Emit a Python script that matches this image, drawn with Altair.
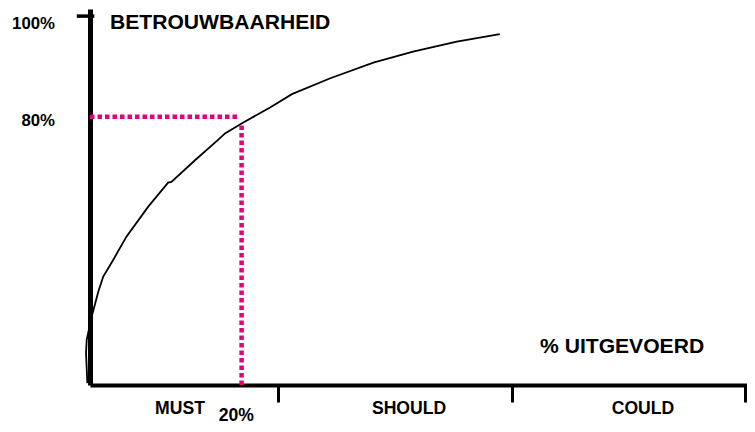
import altair as alt
import pandas as pd

# curve (x = % executed on a 0-100 schematic axis, y = reliability on a 0-100 schematic axis)
curve_x = [-0.4, -0.6, -0.5, 0.26, 1.25, 2.0, 3.5, 5.5, 8.8, 11.8, 12.3, 15.9, 19.3, 20.4, 22.9, 27.2, 30.5, 36.3, 42.8, 48.8, 55.4, 61.9]
curve_y = [0.5, 8.6, 12.2, 18.5, 25.2, 29.3, 33.8, 40.1, 48.2, 54.7, 54.9, 60.8, 66.2, 68.0, 70.7, 75.0, 78.6, 82.9, 87.1, 90.1, 92.8, 94.8]

# axis ticks
x_ticks = [28.4, 63.7, 99.0]
y_tick_value = [99.7]
y_tick_from = [-2.0]
y_tick_to = [0.65]

# dotted guide lines
guide_h_x = [0.0]
guide_h_x2 = [22.4]
guide_h_y = [72.5]
guide_v_x = [22.9]
guide_v_y = [0.0]
guide_v_y2 = [70.4]

# labels
ylab_text = ["100%", "80%"]
ylab_x = [-5.29, -5.29]
ylab_y = [96.1, 70.0]

title_text = ["BETROUWBAARHEID", "% UITGEVOERD"]
title_x = [3.02, 67.98]
title_y = [96.3, 8.73]

cat_text = ["MUST", "SHOULD", "COULD", "20%"]
cat_x = [13.6, 48.19, 83.53, 22.1]
cat_y = [-7.84, -7.84, -7.84, -9.8]

PINK = "#E4007C"
FONT = "Liberation Sans"

xs = alt.Scale(domain=[0, 99.24], nice=False, zero=False)
ys = alt.Scale(domain=[0, 101.62], nice=False, zero=False)
xaxis = alt.Axis(values=x_ticks, labels=False, title=None, grid=False,
                 tickSize=17, tickWidth=3, tickColor="black",
                 domainColor="black", domainWidth=4)
yaxis = alt.Axis(values=y_tick_value, labels=False, ticks=False, title=None, grid=False,
                 domainColor="black", domainWidth=5)


def X(f):
    return alt.X(f, type="quantitative", scale=xs, axis=xaxis)


def Y(f):
    return alt.Y(f, type="quantitative", scale=ys, axis=yaxis)


curve = alt.Chart(pd.DataFrame({"x": curve_x, "y": curve_y, "o": list(range(len(curve_x)))})).mark_line(
    color="black", strokeWidth=1.8
).encode(x=X("x"), y=Y("y"), order="o:Q")

ytick = alt.Chart(pd.DataFrame({"x": y_tick_from, "x2": y_tick_to, "y": y_tick_value})).mark_rule(
    color="black", strokeWidth=3.5
).encode(x=X("x"), x2="x2", y=Y("y"))

hline = alt.Chart(pd.DataFrame({"x": guide_h_x, "x2": guide_h_x2, "y": guide_h_y})).mark_rule(
    color=PINK, strokeWidth=4.5, strokeDash=[4.5, 3], strokeCap="butt"
).encode(x=X("x"), x2="x2", y=Y("y"))

vline = alt.Chart(pd.DataFrame({"x": guide_v_x, "y": guide_v_y, "y2": guide_v_y2})).mark_rule(
    color=PINK, strokeWidth=4.5, strokeDash=[4.5, 3], strokeCap="butt"
).encode(x=X("x"), y=Y("y"), y2="y2")

ylabels = alt.Chart(pd.DataFrame({"x": ylab_x, "y": ylab_y, "t": ylab_text})).mark_text(
    font=FONT, fontWeight="bold", fontSize=16.8, align="right", baseline="alphabetic", color="black"
).encode(x=X("x"), y=Y("y"), text="t:N")

titles = alt.Chart(pd.DataFrame({"x": title_x, "y": title_y, "t": title_text})).mark_text(
    font=FONT, fontWeight="bold", fontSize=21.1, align="left", baseline="alphabetic", color="black"
).encode(x=X("x"), y=Y("y"), text="t:N")

cats = alt.Chart(pd.DataFrame({"x": cat_x, "y": cat_y, "t": cat_text})).mark_text(
    font=FONT, fontWeight="bold", fontSize=17.6, align="center", baseline="alphabetic", color="black"
).encode(x=X("x"), y=Y("y"), text="t:N")

chart = alt.layer(hline, vline, curve, ytick, ylabels, titles, cats).properties(
    width=657, height=376,
    autosize=alt.AutoSizeParams(type="none"),
    padding={"left": 82, "top": 1, "right": 0, "bottom": 39},
    background="white",
).configure_view(strokeWidth=0)

chart.save("out.html", embed_options={"renderer": "svg", "actions": False})
